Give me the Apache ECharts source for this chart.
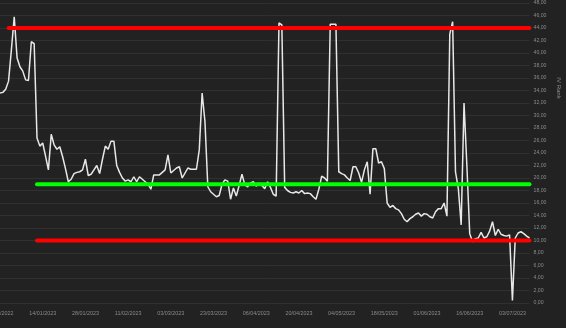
<!DOCTYPE html>
<html>
<head>
<meta charset="utf-8">
<script src="https://cdn.jsdelivr.net/npm/echarts@6/dist/echarts.min.js"></script>
<style>
html,body{margin:0;padding:0;background:#222222;}
#chart{width:566px;height:328px;}
</style>
</head>
<body>
<div id="chart"></div>
<script>
// Tick labels shown every 15 points on the category axis
const tickLabels = ['31/12/2022','14/01/2023','28/01/2023','11/02/2023','03/03/2023','23/03/2023','06/04/2023','20/04/2023','04/05/2023','18/05/2023','01/06/2023','16/06/2023','03/07/2023'];
const labelStep = 15;

// IV Rank values
const ivRank = [
  33.6,33.7,34.2,35.5,40.5,45.8,39.2,37.8,37.1,35.7,
  35.6,41.8,41.5,26.4,25.1,25.6,23.5,21.3,27.0,25.3,
  24.6,25.0,23.4,21.5,19.4,19.8,20.7,20.9,21.0,21.3,
  23.0,20.4,20.6,21.3,22.0,20.7,23.0,25.1,24.6,25.9,
  25.9,22.0,20.9,20.0,19.5,19.7,19.4,20.2,19.4,20.2,
  19.8,19.4,19.0,18.2,20.5,20.5,20.5,20.9,21.3,23.7,
  20.8,21.2,21.6,21.8,20.0,20.8,21.6,21.4,21.4,21.4,
  24.5,33.6,29.0,18.6,17.8,17.4,17.0,17.2,19.0,19.7,
  19.5,16.6,18.4,17.1,18.8,20.6,18.9,18.6,19.2,19.4,
  18.7,19.2,18.8,18.3,19.4,18.5,17.4,17.1,44.8,44.5,
  18.5,18.0,17.7,17.6,17.8,17.6,18.0,17.5,17.6,17.5,
  17.0,16.6,18.2,20.3,20.0,19.5,44.6,44.6,44.6,21.0,
  20.7,20.5,20.0,19.6,21.8,21.8,20.8,19.3,21.3,22.6,
  17.4,24.7,24.7,22.4,22.6,21.5,16.0,15.3,15.6,15.1,
  14.9,14.3,13.4,13.0,13.5,13.8,14.2,14.4,13.9,14.3,
  14.2,13.8,13.6,14.6,15.1,15.1,16.0,13.9,43.0,45.0,
  21.0,18.3,12.5,32.0,22.0,11.1,9.8,10.3,10.4,11.3,
  10.4,10.6,11.5,13.0,10.8,11.8,11.0,10.8,10.7,10.9,
  0.4,10.4,11.2,11.4,11.1,10.7,10.4
];
const categories = ivRank.map((v, i) => String(i));

// Reference levels: value and first category index
const levelHighValue = 44, levelHighStart = 3;
const levelMidValue = 19, levelMidStart = 13;
const levelLowValue = 10, levelLowStart = 13;
const lastIndex = ivRank.length - 1;

const chart = echarts.init(document.getElementById('chart'), null, {renderer: 'canvas'});
const fontFamily = '"Liberation Sans", Arial, sans-serif';
const textColor = '#8a8a8a';

function levelSeries(value, start, color) {
  return {
    type: 'line',
    data: [[start, value], [lastIndex, value]],
    showSymbol: false,
    symbol: 'none',
    lineStyle: {color: color, width: 4, cap: 'round'},
    silent: true,
    z: 3
  };
}

chart.setOption({
  animation: false,
  backgroundColor: '#222222',
  grid: {left: 0, right: 36.5, top: 3, bottom: 25, containLabel: false, outerBoundsMode: 'none'},
  xAxis: {
    type: 'category',
    data: categories,
    boundaryGap: false,
    axisLine: {show: false},
    axisTick: {show: false},
    splitLine: {show: false},
    axisLabel: {
      interval: labelStep - 1,
      margin: 8,
      color: textColor,
      fontSize: 5.4,
      fontFamily: fontFamily,
      formatter: (v, idx) => (idx % labelStep === 0 ? tickLabels[idx / labelStep] : '')
    }
  },
  yAxis: {
    type: 'value',
    position: 'right',
    min: 0,
    max: 48,
    interval: 2,
    axisLine: {show: false},
    axisTick: {show: false},
    splitLine: {lineStyle: {color: '#303030', width: 1}},
    axisLabel: {
      margin: 4,
      color: textColor,
      fontSize: 5.2,
      fontFamily: fontFamily,
      formatter: v => v.toFixed(2).replace('.', ',')
    }
  },
  graphic: [{
    type: 'text',
    x: 559,
    y: 88,
    rotation: -Math.PI / 2,
    style: {
      text: 'IV Rank',
      fill: textColor,
      font: '6px "Liberation Sans", Arial, sans-serif',
      align: 'center',
      verticalAlign: 'middle'
    }
  }],
  series: [
    {
      type: 'line',
      data: ivRank,
      showSymbol: false,
      symbol: 'none',
      lineStyle: {color: '#e8e8e8', width: 1.5},
      z: 2
    },
    levelSeries(levelHighValue, levelHighStart, '#ff0000'),
    levelSeries(levelMidValue, levelMidStart, '#00ff00'),
    levelSeries(levelLowValue, levelLowStart, '#ff0000')
  ]
});
</script>
</body>
</html>
